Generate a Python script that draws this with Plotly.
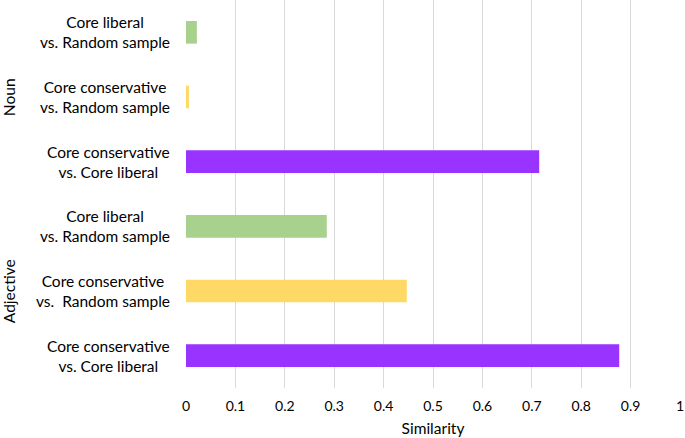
import plotly.graph_objects as go

groups = ["Noun", "Noun", "Noun", "Adjective", "Adjective", "Adjective"]
labels = [
    "Core liberal<br>vs. Random sample",
    "Core conservative<br>vs. Random sample",
    "Core conservative<br>vs. Core liberal",
    "Core liberal<br>vs. Random sample",
    "Core conservative<br>vs.  Random sample",
    "Core conservative<br>vs. Core liberal",
]
values = [0.022, 0.006, 0.715, 0.285, 0.447, 0.877]
colors = ["#A9D18E", "#FFD966", "#9933FF", "#A9D18E", "#FFD966", "#9933FF"]
xticks = [0, 0.1, 0.2, 0.3, 0.4, 0.5, 0.6, 0.7, 0.8, 0.9, 1]

cats = [f"{g}-{i}" for i, g in enumerate(groups)]
FONT = "Lato"

fig = go.Figure(go.Bar(
    x=values, y=cats, orientation="h",
    marker=dict(color=colors, line=dict(width=0)),
    width=0.35,
))

annotations = []
for c, lab in zip(cats, labels):
    annotations.append(dict(
        x=-0.028, xref="paper", y=c, yref="y", text=lab, showarrow=False,
        xanchor="right", yanchor="middle", align="center",
        font=dict(family=FONT, size=15.5, color="#000000"),
    ))
for g in ["Noun", "Adjective"]:
    idx = [i for i, gg in enumerate(groups) if gg == g]
    mid = (idx[0] + idx[-1]) / 2
    annotations.append(dict(
        x=-0.358, xref="paper", y=mid, yref="y", text=g, showarrow=False,
        textangle=-90, xanchor="center", yanchor="middle",
        font=dict(family=FONT, size=15.5, color="#000000"),
    ))

fig.update_layout(
    width=685, height=438,
    margin=dict(l=186, r=5, t=0, b=50),
    paper_bgcolor="white", plot_bgcolor="white",
    showlegend=False,
    annotations=annotations,
    xaxis=dict(
        range=[0, 1], tickvals=xticks, ticktext=[f"{t:g}" for t in xticks],
        showgrid=True, gridcolor="#D9D9D9", gridwidth=1,
        zeroline=False, showline=False, ticks="",
        ticklabelstandoff=8,
        tickfont=dict(family=FONT, size=14, color="#000000"),
        title=dict(text="Similarity", font=dict(family=FONT, size=15.5, color="#000000"), standoff=10),
        fixedrange=True, automargin=False,
    ),
    yaxis=dict(
        autorange="reversed", showticklabels=False, showgrid=False,
        zeroline=False, showline=False, ticks="",
        categoryorder="array", categoryarray=cats, automargin=False,
    ),
)
fig.write_html("out.html", config={"displayModeBar": False},
               post_script="document.body.style.margin='0';")
